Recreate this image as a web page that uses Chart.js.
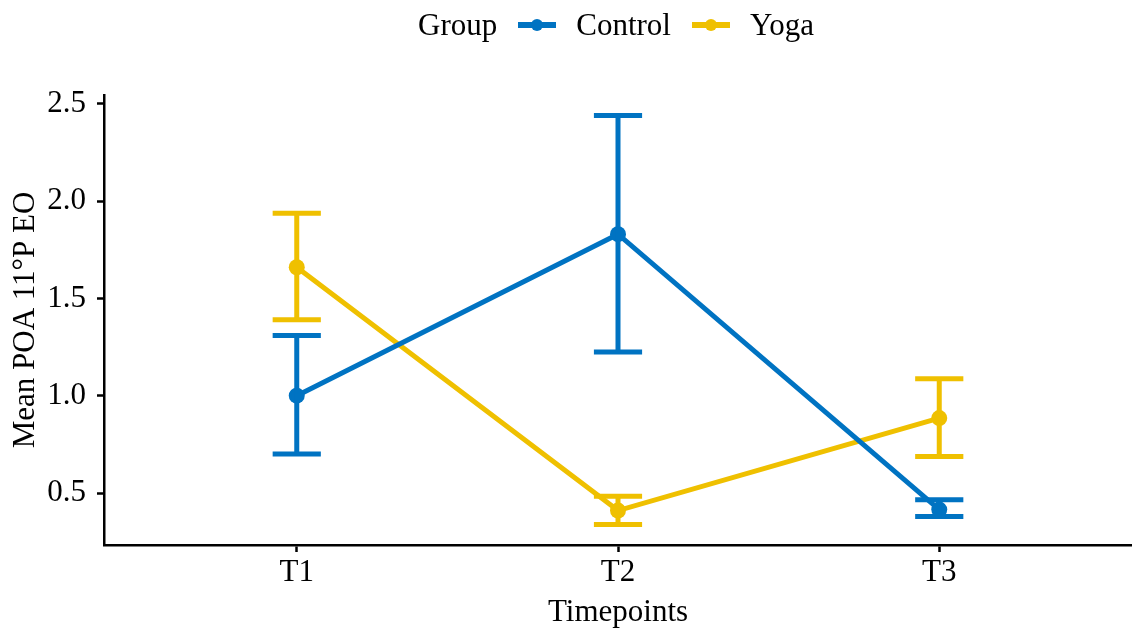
<!DOCTYPE html>
<html>
<head>
<meta charset="utf-8">
<script src="https://cdn.jsdelivr.net/npm/chart.js@4/dist/chart.umd.min.js"></script>
<style>
  html, body { margin: 0; padding: 0; background: #fff; }
  #wrap { position: relative; width: 1132px; height: 630px; }
  #legend {
    position: absolute; top: 5px; left: 418px; height: 40px;
    display: flex; align-items: center;
    font-family: "Liberation Serif", "Times New Roman", serif; font-size: 31px; color: #000;
  }
  .key { position: relative; width: 38px; height: 6px; margin: 0 20px 0 21px; }
  .key .dot { position: absolute; left: 13px; top: -3px; width: 12px; height: 12px; border-radius: 50%; }
</style>
</head>
<body>
<div id="wrap">
  <canvas id="c" width="1132" height="630"></canvas>
  <div id="legend"></div>
</div>
<script>
// Timepoints and group means with their error limits
const categories = ['T1', 'T2', 'T3'];
const groups = ['Control', 'Yoga'];
const controlMean = [1.00, 1.83, 0.415];
const controlLow  = [0.70, 1.225, 0.38];
const controlHigh = [1.31, 2.44, 0.466];
const yogaMean = [1.66, 0.41, 0.885];
const yogaLow  = [1.39, 0.338, 0.688];
const yogaHigh = [1.937, 0.483, 1.087];
const yTicks = [0.5, 1.0, 1.5, 2.0, 2.5];

const colors = { Control: '#0073C2', Yoga: '#EFC000' };
const FONT = '"Liberation Serif", "Times New Roman", serif';
const FONT_SIZE = 31;
const CAP = 0.075; // half-width of the error bar caps, in category units

function meanPoints(means) {
  return means.map((v, i) => ({ x: i, y: v }));
}
// One path per group: top cap, whisker, bottom cap, separated by gaps
function errorPoints(low, high) {
  const pts = [];
  low.forEach((lo, i) => {
    const hi = high[i];
    pts.push({ x: i - CAP, y: hi }, { x: i + CAP, y: hi }, { x: i, y: null });
    pts.push({ x: i, y: hi }, { x: i, y: lo }, { x: i, y: null });
    pts.push({ x: i - CAP, y: lo }, { x: i + CAP, y: lo }, { x: i, y: null });
  });
  return pts;
}

function errorSet(name, low, high) {
  return {
    label: name + ' SE', data: errorPoints(low, high),
    borderColor: colors[name], borderWidth: 5, pointRadius: 0,
    borderCapStyle: 'butt', spanGaps: false, showLine: true, fill: false
  };
}
function meanSet(name, means) {
  return {
    label: name, data: meanPoints(means),
    borderColor: colors[name], backgroundColor: colors[name], borderWidth: 5,
    pointRadius: 8, pointHoverRadius: 8, pointBorderWidth: 0,
    showLine: true, fill: false, tension: 0
  };
}

// Legend: group title followed by a line-and-dot key per group
const legend = document.getElementById('legend');
legend.innerHTML = '<span>Group</span>' + groups.map(g =>
  '<span class="key" style="background:' + colors[g] + '"><span class="dot" style="background:' + colors[g] + '"></span></span>' +
  '<span>' + g + '</span>').join('');

new Chart(document.getElementById('c'), {
  type: 'scatter',
  data: {
    datasets: [
      errorSet('Control', controlLow, controlHigh),
      meanSet('Control', controlMean),
      errorSet('Yoga', yogaLow, yogaHigh),
      meanSet('Yoga', yogaMean)
    ]
  },
  options: {
    responsive: false, animation: false, events: [],
    layout: { autoPadding: false, padding: { top: 95, right: 0, left: 0, bottom: 0 } },
    plugins: { legend: { display: false }, tooltip: { enabled: false } },
    scales: {
      x: {
        type: 'linear', min: -0.6, max: 2.6,
        afterBuildTicks: s => { s.ticks = categories.map((_, i) => ({ value: i })); },
        afterFit: s => { s.height = 85; },
        ticks: {
          callback: v => categories[v] ?? '',
          color: '#000', font: { family: FONT, size: FONT_SIZE }, padding: 2, maxRotation: 0
        },
        grid: { drawOnChartArea: false, drawTicks: true, tickLength: 7, tickWidth: 2.5, tickColor: '#000' },
        border: { display: true, color: '#000', width: 2.5 },
        title: {
          display: true, text: 'Timepoints', color: '#000',
          font: { family: FONT, size: FONT_SIZE, lineHeight: 1 }, padding: { top: 0, bottom: 2 }
        }
      },
      y: {
        type: 'linear', min: 0.233, max: 2.545,
        afterBuildTicks: s => { s.ticks = yTicks.map(v => ({ value: v })); },
        afterFit: s => { s.width = 104; },
        ticks: {
          callback: v => v.toFixed(1),
          color: '#000', font: { family: FONT, size: FONT_SIZE }, padding: 11
        },
        grid: { drawOnChartArea: false, drawTicks: true, tickLength: 7, tickWidth: 2.5, tickColor: '#000' },
        border: { display: true, color: '#000', width: 2.5 },
        title: {
          display: true, text: 'Mean POA 11°P EO', color: '#000',
          font: { family: FONT, size: FONT_SIZE }, padding: { top: 7, bottom: 0 }
        }
      }
    }
  }
});
</script>
</body>
</html>
